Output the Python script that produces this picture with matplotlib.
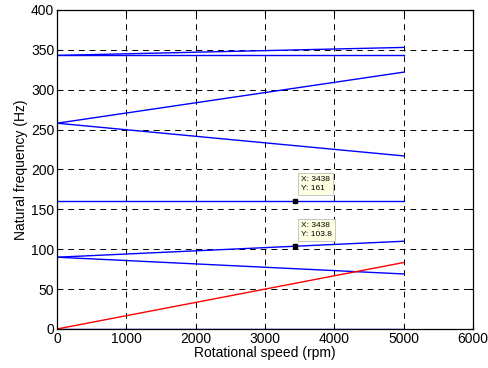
import matplotlib
matplotlib.use("Agg")
import matplotlib.pyplot as plt
import numpy as np

plt.rcParams['font.family'] = ['Liberation Sans', 'DejaVu Sans']

# Rotational speed samples (rpm)
speed = [0, 1000, 2000, 3000, 4000, 5000]

# Natural frequency branches (Hz)
mode0 = [0, 0, 0, 0, 0, 0]
mode1_bw = [90, 85.8, 81.6, 77.4, 73.2, 69]
mode1_fw = [90, 94, 98, 102, 106, 110]
mode2 = [161, 161, 161, 161, 161, 161]
mode3_bw = [258, 249.8, 241.6, 233.4, 225.2, 217]
mode3_fw = [258, 270.8, 283.6, 296.4, 309.2, 322]
mode4_bw = [343, 343, 343, 343, 343, 343]
mode4_fw = [343, 345, 347, 349, 351, 353]
excitation = [0, 16.7, 33.3, 50, 66.7, 83.3]

# Data tips
tipX = [3438, 3438]
tipY = [161, 103.8]
tipText = ["X: 3438\nY: 161", "X: 3438\nY: 103.8"]

fig = plt.figure(figsize=(4.88, 3.68), dpi=100)
ax = fig.add_axes([0.117, 0.106, 0.852, 0.867])

for branch in [mode0, mode1_bw, mode1_fw, mode2, mode3_bw, mode3_fw, mode4_bw, mode4_fw]:
    ax.plot(speed, branch, color='#0000ff', linewidth=1.0)
ax.plot(speed, excitation, color='#ff0000', linewidth=1.0)

for x, y, t in zip(tipX, tipY, tipText):
    ax.plot(x, y, 's', color='black', markersize=3.5, zorder=5)
    ax.annotate(t, xy=(x, y), xytext=(4, 6), textcoords='offset points',
                fontsize=6, va='bottom', ha='left', linespacing=1.4,
                bbox=dict(boxstyle='square,pad=0.35', fc='#ffffe1', ec='#bdbdbd', lw=0.6),
                zorder=6)

ax.set_xlim(0, 6000)
ax.set_ylim(0, 400)
ax.set_xticks(np.arange(0, 6001, 1000))
ax.set_yticks(np.arange(0, 401, 50))
ax.grid(True, color='black', linestyle=(0, (6, 5)), linewidth=0.7)
ax.tick_params(direction='in', length=3, labelsize=10, top=True, right=True, pad=2)
ax.set_xlabel("Rotational speed (rpm)", fontsize=10, labelpad=0)
ax.set_ylabel("Natural frequency (Hz)", fontsize=10, labelpad=2)
for s in ax.spines.values():
    s.set_linewidth(0.9)

fig.savefig("out.png", dpi=100)
